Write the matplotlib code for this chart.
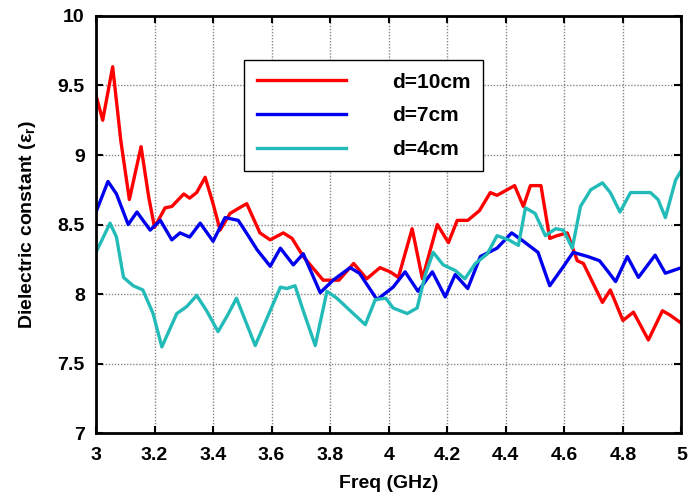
import matplotlib.pyplot as plt

# Values
freq_red = [3.0, 3.023, 3.057, 3.085, 3.114, 3.154, 3.18, 3.20, 3.236, 3.259, 3.30, 3.32, 3.344,
            3.373, 3.40, 3.424, 3.458, 3.49, 3.515, 3.56, 3.595, 3.64, 3.67, 3.708, 3.776, 3.83,
            3.88, 3.925, 3.97, 4.005, 4.033, 4.08, 4.115, 4.166, 4.204, 4.234, 4.27, 4.31,
            4.347, 4.37, 4.43, 4.46, 4.484, 4.52, 4.55, 4.575, 4.61, 4.644, 4.665, 4.73, 4.757,
            4.80, 4.836, 4.887, 4.935, 4.96, 5.0]
eps_red = [9.43, 9.25, 9.635, 9.10, 8.68, 9.06, 8.70, 8.48, 8.62, 8.63, 8.72, 8.69, 8.73,
           8.84, 8.65, 8.46, 8.58, 8.62, 8.65, 8.44, 8.39, 8.44, 8.40, 8.27, 8.10, 8.10,
           8.22, 8.11, 8.19, 8.16, 8.12, 8.47, 8.11, 8.50, 8.37, 8.53, 8.53, 8.60,
           8.73, 8.71, 8.78, 8.63, 8.78, 8.78, 8.40, 8.42, 8.44, 8.24, 8.22, 7.94, 8.03,
           7.81, 7.87, 7.67, 7.88, 7.85, 7.79]

freq_blue = [3.0, 3.041, 3.07, 3.11, 3.14, 3.185, 3.22, 3.259, 3.287, 3.32, 3.356, 3.40, 3.441,
             3.486, 3.52, 3.55, 3.595, 3.63, 3.674, 3.708, 3.766, 3.81, 3.868, 3.90, 3.96,
             4.015, 4.056, 4.10, 4.149, 4.193, 4.227, 4.27, 4.313, 4.37, 4.42, 4.46, 4.51,
             4.55, 4.594, 4.63, 4.68, 4.72, 4.75, 4.775, 4.815, 4.853, 4.91, 4.945, 5.0]
eps_blue = [8.59, 8.81, 8.72, 8.50, 8.59, 8.46, 8.53, 8.39, 8.44, 8.41, 8.51, 8.38, 8.55,
            8.53, 8.42, 8.32, 8.20, 8.33, 8.21, 8.29, 8.01, 8.10, 8.19, 8.15, 7.96,
            8.05, 8.16, 8.02, 8.16, 7.98, 8.14, 8.04, 8.27, 8.33, 8.44, 8.38, 8.30,
            8.06, 8.19, 8.30, 8.27, 8.24, 8.16, 8.09, 8.27, 8.12, 8.28, 8.15, 8.19]

freq_cyan = [3.0, 3.048, 3.07, 3.094, 3.127, 3.16, 3.195, 3.225, 3.276, 3.31, 3.344, 3.378,
             3.417, 3.45, 3.48, 3.544, 3.595, 3.63, 3.652, 3.68, 3.708, 3.749, 3.789, 3.823,
             3.879, 3.92, 3.954, 3.99, 4.015, 4.063, 4.097, 4.125, 4.152, 4.186, 4.227, 4.26,
             4.296, 4.337, 4.37, 4.41, 4.443, 4.467, 4.50, 4.535, 4.57, 4.597, 4.627, 4.655,
             4.69, 4.73, 4.757, 4.79, 4.826, 4.87, 4.894, 4.92, 4.945, 4.98, 5.0]
eps_cyan = [8.30, 8.51, 8.41, 8.12, 8.06, 8.03, 7.86, 7.62, 7.86, 7.91, 7.99, 7.88,
            7.73, 7.85, 7.97, 7.63, 7.88, 8.05, 8.04, 8.06, 7.88, 7.63, 8.02, 7.97,
            7.86, 7.78, 7.96, 7.97, 7.90, 7.86, 7.90, 8.14, 8.30, 8.21, 8.17, 8.11,
            8.22, 8.29, 8.42, 8.39, 8.35, 8.62, 8.58, 8.42, 8.47, 8.46, 8.33, 8.63,
            8.75, 8.80, 8.73, 8.59, 8.73, 8.73, 8.73, 8.68, 8.55, 8.82, 8.89]

labels = ['d=10cm', 'd=7cm', 'd=4cm']
x_ticks = [3, 3.2, 3.4, 3.6, 3.8, 4, 4.2, 4.4, 4.6, 4.8, 5]
x_tick_labels = ['3', '3.2', '3.4', '3.6', '3.8', '4', '4.2', '4.4', '4.6', '4.8', '5']
y_ticks = [7, 7.5, 8, 8.5, 9, 9.5, 10]
y_tick_labels = ['7', '7.5', '8', '8.5', '9', '9.5', '10']

plt.rcParams['font.family'] = ['Liberation Sans', 'DejaVu Sans']
plt.rcParams['font.weight'] = 'bold'

fig = plt.figure(figsize=(6.88, 4.99), dpi=100)
ax = fig.add_axes([0.1395, 0.132, 0.851, 0.836])

ax.plot(freq_red, eps_red, color='#ff0000', lw=2.4, label=labels[0])
ax.plot(freq_blue, eps_blue, color='#0000ee', lw=2.4, label=labels[1])
ax.plot(freq_cyan, eps_cyan, color='#22bbb8', lw=2.4, label=labels[2])

ax.set_xlim(3, 5)
ax.set_ylim(7, 10)
ax.set_xticks(x_ticks)
ax.set_xticklabels(x_tick_labels)
ax.set_yticks(y_ticks)
ax.set_yticklabels(y_tick_labels)
ax.tick_params(axis='x', pad=10)
ax.tick_params(axis='y', pad=8)
ax.tick_params(direction='in', top=True, right=True, length=5, width=1.5,
               labelsize=14)
for s in ax.spines.values():
    s.set_linewidth(2)

ax.grid(True, color='#888888', linestyle=(0, (1, 1.2)), linewidth=1)

ax.set_xlabel('Freq (GHz)', fontsize=14, fontweight='bold', labelpad=8)
ax.set_ylabel('Dielectric constant (ε$_\\mathregular{r}$)', fontsize=14, fontweight='bold',
              labelpad=14)

leg = ax.legend(loc='upper left', bbox_to_anchor=(0.253, 0.894), fontsize=15,
                handlelength=4.3, handletextpad=2.2, labelspacing=0.7,
                fancybox=False, framealpha=1, edgecolor='black', borderpad=0.6,
                borderaxespad=0)
leg.get_frame().set_linewidth(1)

fig.savefig('out.png', dpi=100)
